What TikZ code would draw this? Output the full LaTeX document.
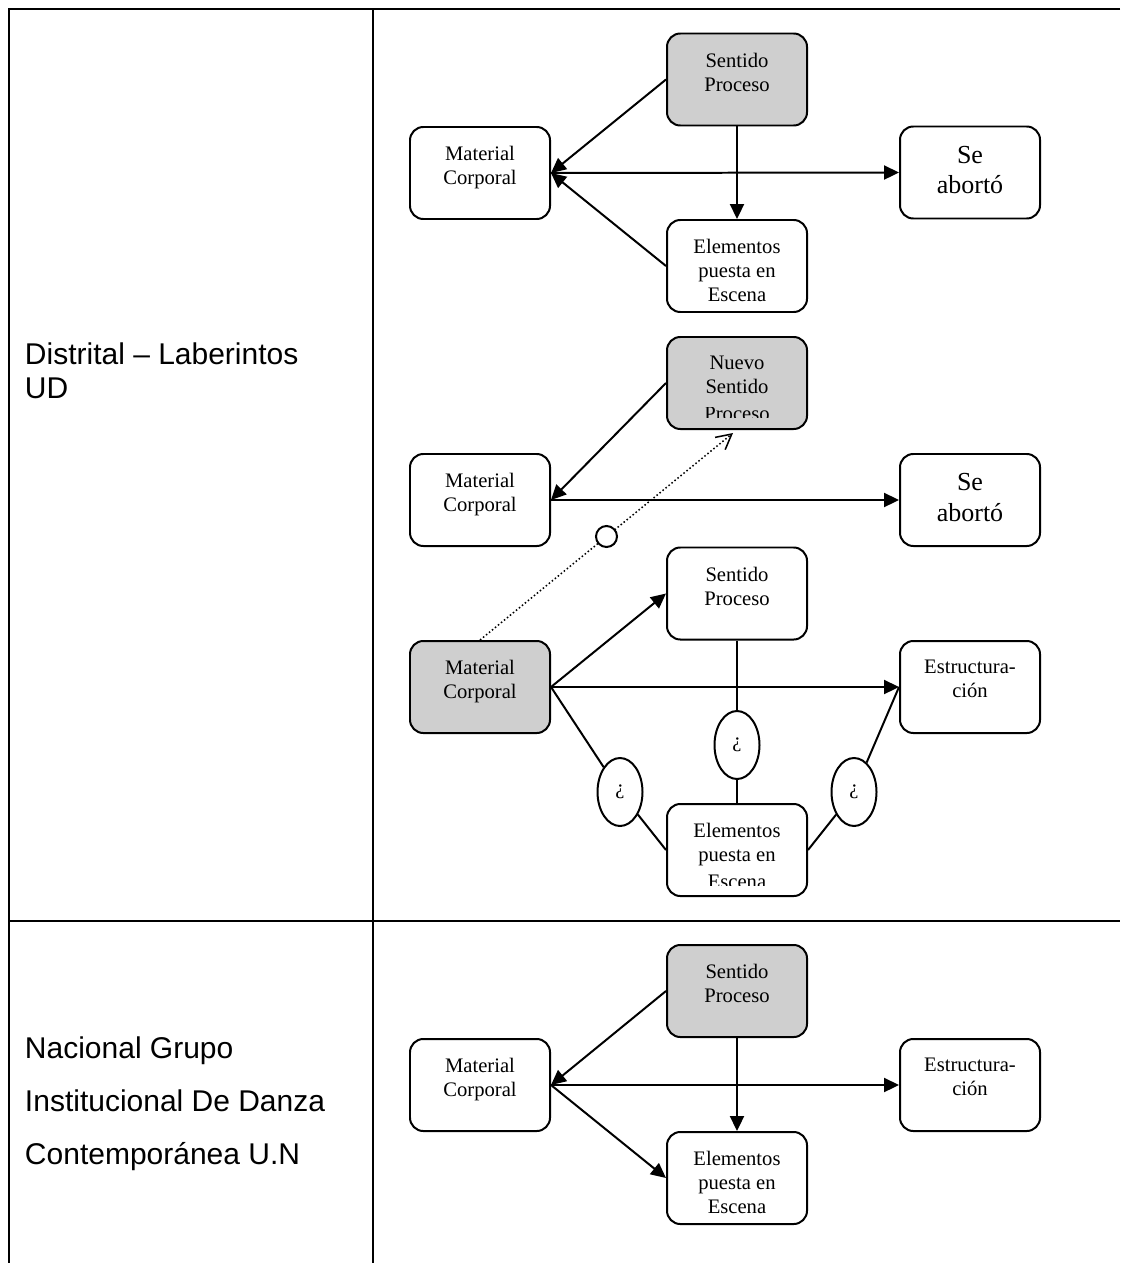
\documentclass[tikz,border=0pt]{standalone}
\usepackage{fontspec}
\usepackage{trimclip}
\setmainfont{Liberation Serif}
\newfontfamily\sansarial{Liberation Sans}
\usetikzlibrary{arrows.meta,positioning,shapes.geometric}
\newcommand{\cajatxt}[1]{\parbox[c][1.38cm][t]{2.1cm}{\centering\vspace*{0.29cm}#1}}
\newcommand{\cortado}[1]{\clipbox{0pt 0.15em 0pt 0pt}{#1}}

\begin{document}
\begin{tikzpicture}[x=0.015cm, y=-0.015cm, line width=0.85pt,
        >={Triangle[length=6.4pt,width=6pt]},
        caja/.style={draw, rounded corners=0.2cm, inner sep=0pt, font=\fontsize{8.8}{10.2}\selectfont},
        sombra/.style={caja, fill=black!19},
        grande/.style={caja, font=\fontsize{11.1}{13.2}\selectfont},
        duda/.style={draw, ellipse, fill=white, inner sep=0pt, minimum width=0.675cm, minimum height=1.02cm, font=\fontsize{8.8}{10.2}\selectfont},
        aro/.style={draw, solid, circle, fill=white, inner sep=0pt, minimum size=0.315cm, line width=0.85pt},
        rotulo/.style={font=\sansarial\fontsize{12.8}{14.3}\selectfont, align=left, inner sep=0pt, anchor=north west},
        rotulob/.style={rotulo, font=\sansarial\fontsize{12.8}{22.6}\selectfont}]
        \useasboundingbox (0,0) rectangle (1120,1263);
        %tabla
        \draw[line width=1pt] (1120,9) -- (9,9) -- (9,1263);
        \draw[line width=1pt] (373,9) -- (373,1263);
        \draw[line width=1pt] (9,921) -- (1120,921);
        \node[rotulo] (fila1) at (24,342) {Distrital – Laberintos\\UD};
        \node[rotulob] (fila2) at (24,1036) {Nacional Grupo\\Institucional De Danza\\Contemporánea U.N};
        %nodes
        \node[sombra] (sp1) at (737,79.5) {\cajatxt{Sentido\\Proceso}};
        \node[caja] (mc1) at (480,173) {\cajatxt{Material\\Corporal}};
        \node[caja] (ep1) at (737,266) {\cajatxt{Elementos\\puesta en\\Escena}};
        \node[grande] (sa1) at (970,172.5) {\cajatxt{Se\\abortó}};
        \node[sombra] (nsp) at (737,383) {\cajatxt{Nuevo\\Sentido\\\cortado{Proceso}}};
        \node[caja] (mc2) at (480,500) {\cajatxt{Material\\Corporal}};
        \node[grande] (sa2) at (970,500) {\cajatxt{Se\\abortó}};
        \coordinate (nsptip) at (733,433);
        \node[caja] (sp3) at (737,593.5) {\cajatxt{Sentido\\Proceso}};
        \node[sombra] (mc3) at (480,687) {\cajatxt{Material\\Corporal}};
        \node[caja] (est3) at (970,687) {\cajatxt{Estructura-\\ción}};
        \node[caja] (ep3) at (737,850) {\cajatxt{Elementos\\puesta en\\\cortado{Escena}}};
        \node[duda] (q1) at (620,792) {¿};
        \node[duda] (q2) at (737,745) {¿};
        \node[duda] (q3) at (854,792) {¿};
        \node[sombra] (sp4) at (737,991) {\cajatxt{Sentido\\Proceso}};
        \node[caja] (mc4) at (480,1085) {\cajatxt{Material\\Corporal}};
        \node[caja] (est4) at (970,1085) {\cajatxt{Estructura-\\ción}};
        \node[caja] (ep4) at (737,1178) {\cajatxt{Elementos\\puesta en\\Escena}};
        %edges
        \draw[->] (sp1.west) -- (mc1.east);
        \draw[->] (ep1.west) -- (mc1.east);
        \draw[->] (mc1.east) -- (sa1.west);
        \draw[->] (sp1) -- (ep1);
        \draw[->] (nsp.west) -- (mc2.east);
        \draw[->] (mc2.east) -- (sa2.west);
        \draw[densely dotted, line width=0.65pt, -{Straight Barb[length=6.4pt,width=6.8pt]}] (mc3.north) -- (nsptip) node[midway, aro] (o1) {};
        \draw[->] (mc3.east) -- (sp3.west);
        \draw[->] (mc3.east) -- (est3.west);
        \draw (mc3.east) -- (q1) -- (ep3.west);
        \draw (sp3) -- (q2) -- (ep3);
        \draw (ep3.east) -- (q3) -- (est3.west);
        \draw[->] (sp4.west) -- (mc4.east);
        \draw[->] (mc4.east) -- (est4.west);
        \draw[->] (mc4.east) -- (ep4.west);
        \draw[->] (sp4) -- (ep4);
\end{tikzpicture}
\end{document}
